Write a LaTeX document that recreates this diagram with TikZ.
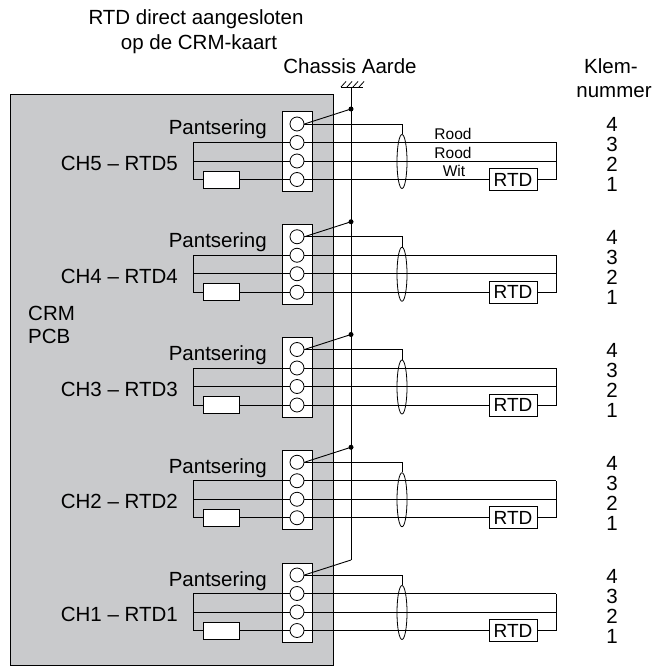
\documentclass[tikz,border=0pt]{standalone}
\usepackage{fontspec}
\setmainfont{Liberation Sans}
\usetikzlibrary{shapes.geometric}
\pgfdeclarelayer{back}
\pgfdeclarelayer{mid}
\pgfdeclarelayer{wirelayer}
\pgfsetlayers{back,mid,wirelayer,main}
\definecolor{pcbgray}{RGB}{201,202,204}
\begin{document}
\begin{tikzpicture}[x=1pt,y=-1pt,
  wire/.style={line width=0.9pt},
  lbl/.style={font=\fontsize{20.5}{24}\selectfont, inner sep=0pt},
  smalllbl/.style={font=\fontsize{15.5}{18}\selectfont, inner sep=0pt},
  term/.style={circle, draw, fill=white, minimum size=14pt, inner sep=0pt, line width=0.8pt},
  tbox/.style={draw, fill=white, minimum width=30pt, minimum height=79.5pt, inner sep=0pt, line width=1pt},
  resbox/.style={draw, fill=white, minimum width=36pt, minimum height=17pt, inner sep=0pt, line width=0.9pt},
  rtdbox/.style={draw, fill=white, minimum width=48pt, minimum height=22pt, inner sep=0pt, line width=0.9pt, font=\fontsize{19}{20}\selectfont},
  shieldell/.style={ellipse, draw, minimum width=10pt, minimum height=54pt, inner sep=0pt, line width=0.8pt},
  jdot/.style={circle, fill, minimum size=5pt, inner sep=0pt}]

\useasboundingbox (0,0) rectangle (653,668);

% PCB
\begin{pgfonlayer}{back}
\node[draw, fill=pcbgray, line width=1pt, minimum width=323pt, minimum height=571pt, inner sep=0pt, anchor=north west] (pcb) at (10,94) {};
\end{pgfonlayer}

% titles
\node[lbl, anchor=base] (t1) at (196,25) {RTD direct aangesloten};
\node[lbl, anchor=base] (t2) at (199,50) {op de CRM-kaart};
\node[lbl, anchor=base] (ca) at (350,74) {Chassis Aarde};
\node[lbl, anchor=base] (kl) at (611,74) {Klem-};
\node[lbl, anchor=base] (nu) at (614,98) {nummer};
\node[lbl, anchor=base west] (crm) at (28,320) {CRM};
\node[lbl, anchor=base west] (pcbl) at (28,343) {PCB};

% ground symbol
\coordinate (gtop) at (351,87);
\coordinate (gl) at (341,87);
\coordinate (gr) at (363,87);
\draw[wire] (gl) -- (gr);
\foreach \hx in {341,347,353,359}{
  \draw[line width=0.8pt] (\hx,87) -- ++(5,-5.5);
}

\foreach \k [count=\j from 0] in {5,4,3,2,1}{
  \pgfmathsetmacro\yo{124+\j*112.75}
  \begin{scope}[shift={(0,\yo)}]
    \begin{pgfonlayer}{mid}
      \node[tbox] (tb\k) at (297,27.75) {};
    \end{pgfonlayer}
    \node[term] (c\k a) at (297,0) {};
    \node[term] (c\k b) at (297,18.5) {};
    \node[term] (c\k c) at (297,37) {};
    \node[term] (c\k d) at (297,55.5) {};
    \coordinate (L\k b) at (193,18.5);
    \coordinate (L\k c) at (193,37);
    \coordinate (L\k d) at (193,55.5);
    \coordinate (R\k b) at (556,18.5);
    \coordinate (R\k c) at (556,37);
    \coordinate (R\k d) at (556,55.5);
    \coordinate (bend\k) at (402,0);
    \coordinate (gnd\k) at (351,-15);
    \node[resbox] (res\k) at (221,55.5) {};
    \node[rtdbox] (rtd\k) at (513,55.5) {RTD};
    \node[shieldell] (sh\k) at (402,37.5) {};
    \begin{pgfonlayer}{wirelayer}
      \draw[wire] (L\k b) -- (R\k b);
      \draw[wire] (L\k c) -- (R\k c);
      \draw[wire] (L\k b) -- (L\k d) -- (res\k.west);
      \draw[wire] (res\k.east) -- (rtd\k.west);
      \draw[wire] (rtd\k.east) -- (R\k d) -- (R\k b);
      \draw[wire] (c\k a.east) -- (bend\k) -- (sh\k.north);
      \draw[wire] (c\k a.east) -- (gnd\k);
    \end{pgfonlayer}
    \ifnum\k>1 \node[jdot] (dot\k) at (gnd\k) {};\fi
    \node[lbl, anchor=base east] (pa\k) at (267,11) {Pantsering};
    \node[lbl, anchor=base east] (ch\k) at (178,46.5) {CH\k\ – RTD\k};
    \node[lbl, anchor=base] (n\k d) at (612,8) {4};
    \node[lbl, anchor=base] (n\k c) at (612,28) {3};
    \node[lbl, anchor=base] (n\k b) at (612,48) {2};
    \node[lbl, anchor=base] (n\k a) at (612,68) {1};
  \end{scope}
}

\begin{pgfonlayer}{wirelayer}
\draw[wire] (gtop) -- (gnd1);
\end{pgfonlayer}

% wire colour labels (CH5 only)
\node[smalllbl, anchor=base] (rood1) at (453,140) {Rood};
\node[smalllbl, anchor=base] (rood2) at (453,158.5) {Rood};
\node[smalllbl, anchor=base] (wit) at (454,176.5) {Wit};

\end{tikzpicture}
\end{document}
